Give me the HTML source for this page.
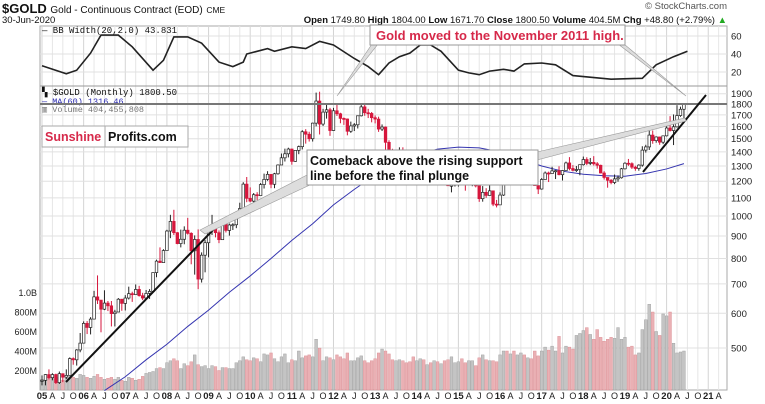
<!DOCTYPE html>
<html><head><meta charset="utf-8"><style>
body{margin:0;background:#fff;width:765px;height:404px;overflow:hidden;font-family:"Liberation Sans",sans-serif}
svg{display:block}
</style></head><body>
<svg id="chart" width="765" height="404" viewBox="0 0 765 404" xmlns="http://www.w3.org/2000/svg">
<g id="grid"></g>
<g id="vol"></g>
<g id="bb"></g>
<g id="candles"></g>
<g id="axes"></g>
<g id="ann"></g>
</svg>
<script>
const closes=[422,435,428,435,417,437,429,433,473,470,495,513,
569,557,582,654,643,613,633,624,599,604,646,632,
650,665,662,680,658,650,666,673,743,789,783,834,
924,972,916,865,885,928,913,833,884,718,814,869,
928,942,916,883,979,927,954,955,1008,1040,1182,1097,
1081,1118,1113,1179,1212,1244,1181,1248,1307,1357,1386,1421,
1332,1411,1439,1556,1536,1500,1628,1828,1620,1725,1746,1566,
1737,1710,1669,1664,1560,1604,1614,1692,1773,1719,1713,1675,
1663,1578,1595,1472,1392,1234,1312,1395,1326,1323,1253,1202,
1240,1326,1284,1295,1250,1322,1282,1287,1210,1172,1175,1184,
1278,1212,1183,1183,1189,1171,1095,1132,1114,1141,1064,1060,
1116,1238,1233,1290,1215,1321,1350,1309,1316,1273,1173,1152,
1211,1253,1249,1267,1268,1242,1269,1321,1283,1271,1276,1309,
1345,1318,1325,1315,1305,1253,1224,1206,1192,1215,1222,1281,
1319,1316,1292,1283,1306,1413,1437,1529,1485,1514,1473,1523,
1587,1566,1597,1694,1751,1800];
const highs=[433,436,447,438,437,442,432,447,476,476,497,541,
575,576,588,675,732,638,677,640,640,611,650,647,
660,690,672,698,693,668,678,681,743,795,848,840,
930,1006,1033,919,931,947,990,918,903,932,826,881,
937,1006,964,927,987,992,961,963,1023,1072,1194,1227,
1162,1128,1133,1189,1249,1265,1241,1254,1311,1388,1424,1431,
1424,1412,1447,1569,1577,1556,1632,1911,1920,1755,1804,1764,
1764,1791,1719,1677,1668,1641,1628,1694,1795,1798,1755,1726,
1695,1684,1617,1600,1488,1423,1348,1434,1434,1362,1362,1263,
1280,1345,1392,1331,1315,1333,1346,1325,1290,1255,1223,1239,
1307,1307,1224,1224,1232,1205,1171,1170,1157,1191,1143,1088,
1132,1263,1287,1306,1303,1362,1378,1367,1352,1321,1306,1176,
1220,1263,1262,1295,1272,1298,1271,1330,1362,1306,1300,1309,
1366,1361,1356,1369,1327,1309,1265,1218,1214,1243,1237,1287,
1326,1349,1325,1302,1312,1442,1453,1566,1566,1519,1516,1525,
1611,1689,1704,1789,1775,1804];
const lows=[411,411,424,422,414,414,418,425,433,458,456,489,
521,538,537,584,630,543,610,607,560,560,612,608,
609,645,637,665,655,643,649,647,677,725,782,793,
847,890,905,862,848,862,907,776,735,681,705,744,
805,905,894,867,883,917,902,929,938,1002,1042,1075,
1075,1044,1087,1114,1155,1203,1157,1157,1242,1307,1331,1360,
1309,1329,1383,1418,1462,1478,1478,1601,1534,1603,1667,1523,
1562,1690,1627,1613,1527,1547,1562,1583,1686,1692,1672,1635,
1626,1555,1562,1321,1338,1180,1208,1274,1291,1252,1227,1182,
1202,1240,1283,1268,1240,1240,1281,1276,1206,1182,1132,1167,
1167,1190,1142,1176,1169,1162,1077,1078,1100,1113,1053,1046,
1062,1111,1206,1209,1199,1200,1311,1301,1302,1241,1172,1122,
1148,1213,1195,1251,1214,1238,1205,1268,1271,1264,1260,1238,
1303,1306,1306,1303,1282,1250,1211,1160,1181,1182,1197,1217,
1276,1301,1280,1268,1268,1295,1395,1414,1461,1469,1453,1458,
1518,1558,1451,1590,1683,1672];
const volumesM=[110,100,130,120,110,130,100,120,140,130,120,160,
150,130,120,140,160,130,110,120,130,110,130,100,
90,130,120,100,110,140,170,180,190,220,230,220,
280,300,320,300,220,270,250,290,360,260,240,250,
220,250,240,200,230,230,220,220,280,300,340,310,
300,330,320,290,370,360,380,320,290,340,370,280,
310,300,400,330,350,360,340,520,430,300,340,330,
310,360,340,320,380,300,300,330,350,300,280,300,
320,380,420,400,370,310,300,310,300,280,290,340,
300,320,310,260,280,300,290,270,300,310,340,280,
290,320,280,300,300,250,330,360,310,300,300,290,
360,400,400,370,400,360,380,360,330,320,400,350,
400,440,410,450,400,550,380,450,440,420,560,580,
610,640,570,520,620,540,500,520,540,530,640,520,
540,440,450,360,380,620,720,880,800,600,560,780,
760,800,480,380,390,400];
const maMonths=[18,24,30,36,42,48,54,60,66,72,78,84,90,96,102,108,114,120,126,132,138,144,150,156,162,168,174,180,185];
const maValues=[400,430,470,510,560,610,670,730,800,880,960,1060,1150,1240,1320,1380,1420,1435,1430,1400,1350,1300,1265,1245,1235,1232,1250,1280,1316];
const bbMonths=[0,7,10,14,17,22,26,32,35,38,42,46,51,55,58,59,65,67,72,76,80,84,90,94,97,100,103,106,109,112,115,120,123,126,129,133,136,139,144,148,153,164,173,177,182,186];
const bbValues=[27,18,22,41,61,61,48,22,33,59,59,52,31,26,31,40,46,43,48,46,54,50,35,26,17,30,37,41,50,50,43,22,19,17,21,23,21,29,30,28,16,12,13,28,37,43];
const priceTicks=[1900,1800,1700,1600,1500,1400,1300,1200,1100,1000,900,800,700,600,500];
const volTicks=[200,400,600,800,1000];
const volTickLabels=["200M","400M","600M","800M","1.0B"];
const bbTicks=[20,40,60];
const yearLabels=["05","06","07","08","09","10","11","12","13","14","15","16","17","18","19","20","21"];

const NS="http://www.w3.org/2000/svg";
const L=40,R=727,T=26,SEP=86,B=390;
const xM=m=>42+3.47*m;
const yP=p=>104+190.5*Math.log(1800/p);
const yV=v=>390-v*19.5/200;
const yB=v=>90-v*0.9;
function el(tag,attrs,parent,txt){const e=document.createElementNS(NS,tag);for(const k in attrs)e.setAttribute(k,attrs[k]);if(txt!==undefined)e.textContent=txt;parent.appendChild(e);return e;}
const grid=document.getElementById('grid'),axes=document.getElementById('axes');
el('rect',{x:L,y:T,width:R-L,height:B-T,fill:'#fff',stroke:'#aaa','stroke-width':1},grid);
for(let q=0;q<=67;q++){const x=xM(q*3);if(x>R)break;el('line',{x1:x,y1:T,x2:x,y2:B,stroke:q%4==0?'#d4d4d4':'#e6e6e6','stroke-width':1},grid);
 const lbl=q%4==0?yearLabels[q/4]:["","A","J","O"][q%4];
 const t=el('text',{x:x,y:399,'font-size':q%4==0?9.5:9,'font-weight':q%4==0?'bold':'normal',fill:'#222','text-anchor':'middle'},axes,lbl);
 
 }
priceTicks.forEach(p=>{const y=yP(p);el('line',{x1:L,y1:y,x2:R,y2:y,stroke:'#e0e0e0'},grid);
 const t=el('text',{x:731,y:y+3.5,'font-size':9.5,fill:'#222'},axes,String(p));
 
 });
volTicks.forEach((v,i)=>{const y=yV(v);
 const t=el('text',{x:37,y:y+3.5,'font-size':9,fill:'#222','text-anchor':'end'},axes,volTickLabels[i]);
 
 });
bbTicks.forEach(v=>{const y=yB(v);el('line',{x1:L,y1:y,x2:R,y2:y,stroke:'#e0e0e0'},grid);
 const t=el('text',{x:731,y:y+3.5,'font-size':9.5,fill:'#222'},axes,String(v));
 
 });
el('line',{x1:L,y1:SEP,x2:R,y2:SEP,stroke:'#999'},grid);
const vol=document.getElementById('vol');
volumesM.forEach((v,i)=>{const o=i?closes[i-1]:closes[0];const down=closes[i]<o;const x=xM(i);
 const r=el('rect',{x:x-1.4,y:yV(v),width:2.8,height:B-yV(v),fill:down?'#eab0b4':'#c4c4c4',stroke:down?'#d98a90':'#9a9a9a','stroke-width':0.4},vol);
 
 });
const maPts=maMonths.map((m,i)=>xM(m)+','+yP(maValues[i])).join(' ');
const ma=el('polyline',{points:maPts,fill:'none',stroke:'#3535b0','stroke-width':1},vol);


const bbg=document.getElementById('bb');
const bbl=el('polyline',{points:bbMonths.map((m,i)=>xM(m)+','+yB(bbValues[i])).join(' '),fill:'none',stroke:'#222','stroke-width':1.6},bbg);


const cg=document.getElementById('candles');
closes.forEach((c,i)=>{const o=i?closes[i-1]:closes[0];const down=c<o;const x=xM(i);const col=down?'#d6163c':'#222';
 el('line',{x1:x,y1:yP(highs[i]),x2:x,y2:yP(lows[i]),stroke:col,'stroke-width':1},cg);
 const top=yP(Math.max(o,c)),bot=yP(Math.min(o,c));
 const r=el('rect',{x:x-1.3,y:top,width:2.6,height:Math.max(1,bot-top),fill:down?'#d6163c':'#fff',stroke:col,'stroke-width':0.7},cg);
 
 });
</script>
<svg style="position:absolute;left:0;top:0" width="765" height="404">
<text x="2" y="13" font-size="13" font-weight="bold" fill="#111">$GOLD <tspan font-size="10" font-weight="normal">Gold - Continuous Contract (EOD)</tspan> <tspan font-size="8.5" font-weight="normal">CME</tspan></text>
<text x="2" y="23" font-size="9.5" fill="#111">30-Jun-2020</text>
<text x="727" y="9" font-size="9.5" fill="#555" text-anchor="end">© StockCharts.com</text>
<text x="727" y="23" font-size="9.5" fill="#111" text-anchor="end"><tspan font-weight="bold">Open</tspan> 1749.80 <tspan font-weight="bold">High</tspan> 1804.00 <tspan font-weight="bold">Low</tspan> 1671.70 <tspan font-weight="bold">Close</tspan> 1800.50 <tspan font-weight="bold">Volume</tspan> 404.5M <tspan font-weight="bold">Chg</tspan> +48.80 (+2.79%) <tspan fill="#2a2">▲</tspan></text>
<text x="42" y="33" font-size="9" font-family="Liberation Mono,monospace" fill="#111">— BB Width(20,2.0) 43.831</text>
<text x="42" y="95" font-size="9" font-family="Liberation Mono,monospace" fill="#111">▚ $GOLD (Monthly) 1800.50</text>
<text x="42" y="104" font-size="8.5" font-family="Liberation Mono,monospace" fill="#2a2ab0">— MA(60) 1316.46</text>
<text x="42" y="112" font-size="8.5" font-family="Liberation Mono,monospace" fill="#777">▥ Volume 404,455,808</text>
<line x1="40" y1="104" x2="727" y2="104" stroke="#777" stroke-width="2"/>
<line x1="66" y1="382" x2="213" y2="230" stroke="#111" stroke-width="2"/>
<line x1="643" y1="172" x2="706" y2="95" stroke="#111" stroke-width="2"/>
<g><rect x="42" y="126" width="146" height="21" fill="#fff" stroke="#aaa"/><line x1="105" y1="126" x2="105" y2="147" stroke="#aaa"/><text x="45" y="141" font-size="12.5" font-weight="bold" fill="#d6294a">Sunshine</text><text x="108" y="141" font-size="12.5" font-weight="bold" fill="#111">Profits.com</text></g>
<g>
<polygon points="307,175 200,230 205,234 312,184" fill="#ddd" stroke="#999" stroke-width="0.6"/>
<polygon points="537,152 685,118 686,121 537,160" fill="#ddd" stroke="#999" stroke-width="0.6"/>
<rect x="307" y="150" width="231" height="35" fill="#fff" stroke="#999"/>
<text x="310" y="165" font-size="12.5" font-weight="bold" fill="#111">Comeback above the rising support</text>
<text x="310" y="180" font-size="12.5" font-weight="bold" fill="#111">line before the final plunge</text></g>
<g>
<polygon points="372,44 337,96 378,44" fill="#ddd" stroke="#999" stroke-width="0.6"/>
<polygon points="618,44 686,96 624,44" fill="#ddd" stroke="#999" stroke-width="0.6"/>
<rect x="370" y="25" width="255" height="20" fill="#fff" stroke="#999"/>
<text x="376" y="40" font-size="13" font-weight="bold" fill="#d6294a">Gold moved to the November 2011 high.</text></g>
</svg>
</body></html>
